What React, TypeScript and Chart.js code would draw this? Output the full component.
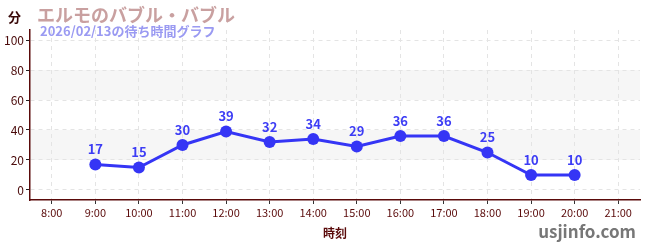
import React, { useEffect, useRef } from "react";
import { Chart, registerables } from "chart.js";

Chart.register(...registerables);

const timeLabels = ["8:00", "9:00", "10:00", "11:00", "12:00", "13:00", "14:00", "15:00", "16:00", "17:00", "18:00", "19:00", "20:00", "21:00"];
const waitTimes: (number | null)[] = [null, 17, 15, 30, 39, 32, 34, 29, 36, 36, 25, 10, 10, null];
const yTicks = [0, 10, 20, 30, 40, 50, 60, 70, 80, 90, 100];
const bands = [[20, 40], [60, 80]];
const titleText = "エルモのバブル・バブル";
const subtitleText = "2026/02/13の待ち時間グラフ";
const yUnit = "分";
const xTitle = "時刻";
const watermark = "usjinfo.com";

const FONT = "'Noto Sans CJK JP', 'Noto Sans', sans-serif";
const LINE = "#3535f5";

export default function App() {
  const ref = useRef<HTMLCanvasElement>(null);
  useEffect(() => {
    document.body.style.margin = "0";
    const bandPlugin = {
      id: "bands",
      beforeDraw(chart: any) {
        const { ctx, chartArea, scales } = chart;
        ctx.save();
        ctx.fillStyle = "#f6f6f6";
        for (const [a, b] of bands) {
          const y1 = scales.y.getPixelForValue(b);
          const y2 = scales.y.getPixelForValue(a);
          ctx.fillRect(chartArea.left, y1, chartArea.right - chartArea.left, y2 - y1);
        }
        ctx.restore();
      },
    };
    const textPlugin = {
      id: "texts",
      afterDraw(chart: any) {
        const { ctx } = chart;
        ctx.save();
        ctx.textBaseline = "middle";
        ctx.textAlign = "left";
        ctx.fillStyle = "#3a0a0a";
        ctx.font = `bold 13px ${FONT}`;
        ctx.fillText(yUnit, 8, 17);
        ctx.fillStyle = "#c9a0a0";
        ctx.font = `bold 18px ${FONT}`;
        ctx.fillText(titleText, 37, 15);
        ctx.fillStyle = "#9a9af2";
        ctx.font = `bold 13px ${FONT}`;
        ctx.fillText(subtitleText, 40, 31);
        ctx.fillStyle = "#777777";
        ctx.font = `bold 17px ${FONT}`;
        ctx.textAlign = "right";
        ctx.fillText(watermark, 636, 232);
        // data labels
        const meta = chart.getDatasetMeta(0);
        ctx.textAlign = "center";
        ctx.textBaseline = "alphabetic";
        ctx.fillStyle = "#3d3df5";
        ctx.font = `bold 13px ${FONT}`;
        meta.data.forEach((pt: any, i: number) => {
          const v = waitTimes[i];
          if (v === null) return;
          ctx.fillText(String(v), pt.x, pt.y - 10);
        });
        ctx.restore();
      },
    };
    const chart = new Chart(ref.current!, {
      type: "line",
      data: {
        labels: timeLabels,
        datasets: [
          {
            data: waitTimes,
            borderColor: LINE,
            backgroundColor: LINE,
            borderWidth: 3,
            pointRadius: 6,
            pointHoverRadius: 6,
            pointBackgroundColor: LINE,
            pointBorderWidth: 0,
            tension: 0,
            spanGaps: false,
          },
        ],
      },
      options: {
        animation: false,
        responsive: false,
        layout: { padding: { top: 30, right: 10, left: 0, bottom: 0 } },
        plugins: { legend: { display: false }, tooltip: { enabled: false } },
        scales: {
          x: {
            type: "category",
            offset: true,
            grid: {
              offset: false,
              color: "#e4e4e4",
              tickColor: "#333333",
              tickLength: 4,
              lineWidth: 1,
            },
            border: { color: "#5a0a0a", width: 1.5, dash: [4, 4] },
            ticks: { color: "#5a0a0a", font: { family: FONT, size: 11 }, padding: 2, maxRotation: 0, autoSkip: false },
            title: { display: true, text: xTitle, color: "#5a0a0a", font: { family: FONT, size: 12, weight: "bold" }, padding: { top: 6, bottom: 9 } },
            afterFit(scale: any) {
              scale.height = 50;
            },
          },
          y: {
            type: "linear",
            min: -6.67,
            max: 106.67,
            afterBuildTicks(scale: any) {
              scale.ticks = yTicks.map((v) => ({ value: v }));
            },
            grid: {
              color: "#e4e4e4",
              tickColor: (c: any) => (c.tick && c.tick.value % 20 === 0 ? "#222222" : "#dd2222"),
              tickLength: 4,
            },
            border: { color: "#5a0a0a", width: 1.5, dash: [4, 4] },
            ticks: {
              color: "#4a0a0a",
              font: { family: FONT, size: 12 },
              padding: 2,
              callback: (v: any) => (Number(v) % 20 === 0 ? String(v) : ""),
            },
            afterFit(scale: any) {
              scale.width = 30;
            },
          },
        },
      },
      plugins: [bandPlugin, textPlugin],
    } as any);
    return () => chart.destroy();
  }, []);
  return (
    <div style={{ width: 650, height: 250 }}>
      <canvas ref={ref} width={650} height={250} style={{ display: "block" }} />
    </div>
  );
}
